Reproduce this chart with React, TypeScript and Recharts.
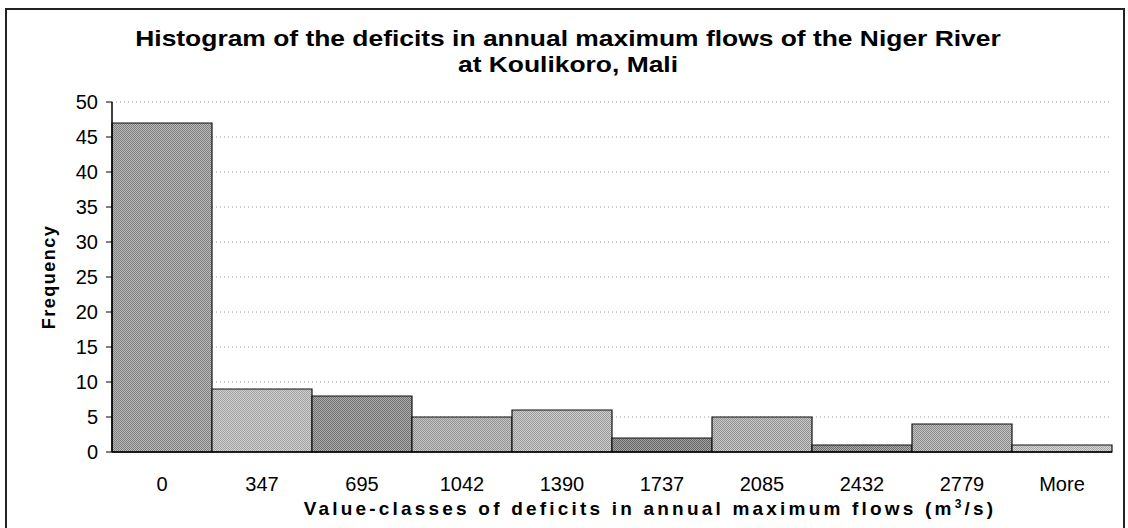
import { BarChart, Bar, Cell, XAxis, YAxis, CartesianGrid } from 'recharts';

const classes = ['0', '347', '695', '1042', '1390', '1737', '2085', '2432', '2779', 'More'];
const frequency = [47, 9, 8, 5, 6, 2, 5, 1, 4, 1];
const yTicks = [0, 5, 10, 15, 20, 25, 30, 35, 40, 45, 50];
const edgeTicks = [0, 0.5, 1, 1.5, 2, 2.5, 3, 3.5, 4, 4.5, 5, 5.5, 6, 6.5, 7, 7.5, 8, 8.5, 9, 9.5, 10];

// two greys per bar, mixed in a 2px checker to mimic the scanned dither
const shades: [string, string][] = [
  ['#808080', '#b8b8b8'],
  ['#a0a0a0', '#d2d2d2'],
  ['#707070', '#acacac'],
  ['#929292', '#c6c6c6'],
  ['#999999', '#cfcfcf'],
  ['#646464', '#a4a4a4'],
  ['#909090', '#cacaca'],
  ['#6e6e6e', '#aaaaaa'],
  ['#8a8a8a', '#c4c4c4'],
  ['#a6a6a6', '#dadada'],
];

const font = '"Liberation Sans", Arial, sans-serif';

export default function App() {
  const data = classes.map((c, i) => ({ cls: c, freq: frequency[i] }));

  return (
    <div style={{ position: 'absolute', left: 0, top: 0, width: 1128, height: 528, background: '#fff', overflow: 'hidden', fontFamily: font }}>
      <div style={{ position: 'absolute', left: 5, top: 8, width: 1116, height: 540, border: '2px solid #222' }} />
      <div
        style={{
          position: 'absolute',
          left: 0,
          top: 26,
          width: 1136,
          textAlign: 'center',
          fontWeight: 'bold',
          fontSize: 22,
          lineHeight: '26px',
          color: '#000',
          transform: 'scaleX(1.2)',
        }}
      >
        Histogram of the deficits in annual maximum flows of the Niger River
        <br />
        at Koulikoro, Mali
      </div>
      <div style={{ position: 'absolute', left: 0, top: 0 }}>
        <BarChart
          width={1128}
          height={528}
          data={data}
          barCategoryGap={0}
          margin={{ top: 102, right: 16, bottom: 0, left: 52 }}
        >
          <defs>
            {shades.map(([dark, light], i) => (
              <pattern key={i} id={`dither${i}`} width={2} height={2} patternUnits="userSpaceOnUse">
                <rect width={2} height={2} fill={light} />
                <rect width={1} height={1} fill={dark} />
                <rect x={1} y={1} width={1} height={1} fill={dark} />
              </pattern>
            ))}
          </defs>
          <CartesianGrid vertical={false} stroke="#9a9a9a" strokeDasharray="1 3" />
          <XAxis
            xAxisId="edge"
            type="number"
            domain={[0, 10]}
            ticks={edgeTicks}
            height={0}
            axisLine={false}
            tickSize={6}
            tickLine={{ stroke: '#000' }}
            tickFormatter={() => ''}
          />
          <XAxis
            dataKey="cls"
            height={76}
            axisLine={{ stroke: '#000', strokeWidth: 1.5 }}
            tickLine={false}
            tickSize={0}
            tickMargin={25}
            tick={{ fill: '#000', fontSize: 20, fontFamily: font }}
            label={{
              content: ({ viewBox }: any) => (
                <text
                  x={viewBox.x + viewBox.width / 2 + 38}
                  y={515}
                  textAnchor="middle"
                  fill="#000"
                  fontSize={19}
                  fontWeight="bold"
                  fontFamily={font}
                  letterSpacing={3.2}
                >
                  Value-classes of deficits in annual maximum flows (m
                  <tspan fontSize={12} dy={-7}>3</tspan>
                  <tspan dy={7}>/s)</tspan>
                </text>
              ),
            }}
          />
          <XAxis
            xAxisId="top"
            orientation="top"
            height={0}
            tick={false}
            tickLine={false}
            axisLine={{ stroke: '#000', strokeWidth: 1.5 }}
          />
          <YAxis
            domain={[0, 50]}
            ticks={yTicks}
            width={60}
            interval={0}
            axisLine={{ stroke: '#000', strokeWidth: 1.5 }}
            tickLine={{ stroke: '#000' }}
            tickSize={6}
            tickMargin={8}
            tick={{ fill: '#000', fontSize: 20, fontFamily: font }}
            label={{
              content: ({ viewBox }: any) => {
                const cx = viewBox.x - 3;
                const cy = viewBox.y + viewBox.height / 2;
                return (
                  <text
                    x={cx}
                    y={cy}
                    transform={`rotate(-90 ${cx} ${cy})`}
                    textAnchor="middle"
                    dominantBaseline="central"
                    fill="#000"
                    fontSize={18}
                    fontWeight="bold"
                    fontFamily={font}
                    letterSpacing={1.5}
                  >
                    Frequency
                  </text>
                );
              },
            }}
          />
          <YAxis
            yAxisId="right"
            orientation="right"
            width={0}
            tick={false}
            tickLine={false}
            axisLine={{ stroke: '#000', strokeWidth: 1.5 }}
          />
          <Bar dataKey="freq" stroke="#111" strokeWidth={1.2} isAnimationActive={false}>
            {data.map((d, i) => (
              <Cell key={d.cls} fill={`url(#dither${i})`} />
            ))}
          </Bar>
        </BarChart>
      </div>
    </div>
  );
}
